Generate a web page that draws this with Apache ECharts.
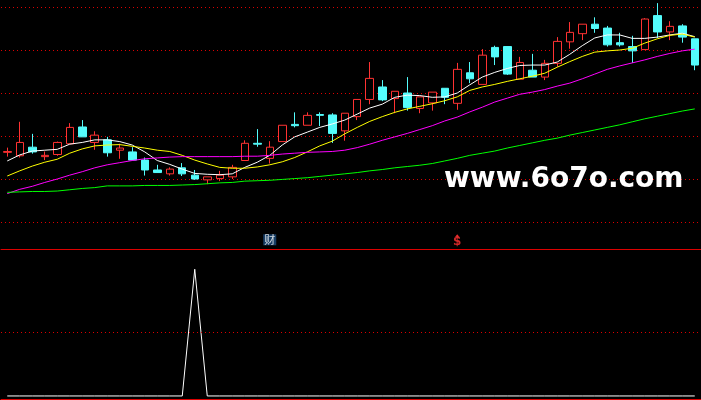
<!DOCTYPE html>
<html><head><meta charset="utf-8">
<style>html,body{margin:0;padding:0;background:#000;}#c{width:701px;height:400px;}</style>
<script src="https://cdn.jsdelivr.net/npm/echarts@6/dist/echarts.min.js"></script>
</head><body><div id="c"></div>
<script>
// ---- data ----
const categories = Array.from({length: 56}, (_, i) => String(i + 1));
// [open, close, low, high]
const candles = [
 [11.62,11.64,11.52,11.73],[11.54,11.85,11.50,12.33],[11.74,11.63,11.59,12.05],[11.52,11.55,11.44,11.64],
 [11.57,11.85,11.54,11.87],[11.82,12.20,11.81,12.30],[12.21,11.98,11.98,12.37],[11.85,12.02,11.68,12.11],
 [11.91,11.61,11.52,11.98],[11.67,11.72,11.47,11.82],[11.63,11.44,11.44,11.74],[11.44,11.21,11.08,11.50],
 [11.21,11.15,11.15,11.33],[11.12,11.23,11.08,11.27],[11.26,11.12,11.07,11.37],[11.09,11.00,10.98,11.21],
 [10.98,11.05,10.88,11.05],[11.01,11.09,10.95,11.19],[11.05,11.27,11.00,11.33],[11.43,11.83,11.43,11.90],
 [11.83,11.81,11.75,12.16],[11.48,11.74,11.36,11.88],[11.87,12.25,11.87,12.25],[12.27,12.24,12.20,12.55],
 [12.25,12.48,12.25,12.55],[12.50,12.48,12.23,12.55],[12.49,12.06,11.84,12.53],[12.12,12.53,11.89,12.53],
 [12.45,12.85,12.37,12.85],[12.85,13.34,12.74,13.72],[13.14,12.84,12.81,13.30],[12.87,13.04,12.53,13.04],
 [13.00,12.66,12.59,13.37],[12.64,12.91,12.53,12.91],[12.77,13.02,12.59,13.02],[13.11,12.90,12.74,13.11],
 [12.76,13.55,12.61,13.70],[13.47,13.33,13.23,13.72],[13.20,13.88,13.20,14.02],[14.06,13.84,13.65,14.10],
 [14.08,13.44,13.42,14.08],[13.32,13.71,13.32,13.84],[13.53,13.37,13.37,13.91],[13.37,13.69,13.30,13.77],
 [13.69,14.20,13.61,14.30],[14.19,14.41,14.03,14.65],[14.38,14.60,14.23,14.60],[14.60,14.50,14.40,14.76],
 [14.51,14.12,14.08,14.56],[14.17,14.12,14.08,14.40],[14.08,13.98,13.70,14.33],[14.01,14.72,14.01,14.74],
 [14.80,14.42,14.28,15.09],[14.42,14.55,14.23,14.67],[14.56,14.30,14.17,14.60],[14.26,13.65,13.53,14.26]
];
const maWhite = [11.42,11.56,11.65,11.67,11.69,11.81,11.85,11.91,11.91,11.87,11.79,11.63,11.43,11.34,11.23,11.13,
 11.11,11.10,11.12,11.27,11.39,11.55,11.79,11.98,12.09,12.20,12.28,12.37,12.51,12.65,12.74,12.90,12.95,12.94,12.90,12.91,
 13.00,13.19,13.37,13.48,13.57,13.64,13.65,13.65,13.72,13.90,14.10,14.28,14.35,14.35,14.27,14.27,14.30,14.35,14.39,14.31];
const maYellow = [11.07,11.19,11.30,11.39,11.46,11.60,11.70,11.77,11.79,11.80,11.76,11.72,11.67,11.64,11.55,11.44,
 11.35,11.27,11.25,11.25,11.28,11.33,11.40,11.50,11.63,11.77,11.88,12.05,12.20,12.34,12.45,12.55,12.63,12.69,12.75,12.82,
 12.91,13.06,13.14,13.20,13.27,13.33,13.39,13.46,13.60,13.73,13.85,13.95,13.98,14.00,14.04,14.16,14.26,14.34,14.37,14.30];
const maMagenta = [10.66,10.76,10.83,10.92,11.00,11.09,11.17,11.26,11.33,11.38,11.43,11.47,11.49,11.51,11.52,11.52,
 11.52,11.52,11.52,11.53,11.53,11.55,11.58,11.60,11.62,11.63,11.64,11.67,11.73,11.81,11.90,11.98,12.06,12.15,12.24,12.35,
 12.44,12.56,12.67,12.79,12.88,12.97,13.02,13.08,13.16,13.23,13.33,13.44,13.55,13.63,13.70,13.77,13.85,13.92,13.98,14.02];
const maGreen = [10.69,10.70,10.71,10.71,10.72,10.75,10.78,10.80,10.84,10.84,10.84,10.85,10.85,10.85,10.86,10.87,
 10.89,10.91,10.92,10.95,10.96,10.97,10.99,11.01,11.03,11.06,11.09,11.12,11.15,11.19,11.22,11.26,11.29,11.32,11.36,11.42,
 11.48,11.55,11.60,11.65,11.72,11.78,11.84,11.90,11.95,12.02,12.08,12.14,12.20,12.26,12.33,12.40,12.46,12.52,12.58,12.63];
const signal = [0,0,0,0,0,0,0,0,0,0,0,0,0,0,0,1,0,0,0,0,0,0,0,0,0,0,0,0,0,0,0,0,0,0,0,0,
 0,0,0,0,0,0,0,0,0,0,0,0,0,0,0,0,0,0,0,0];
const caiMarks = [21];
const dollarMarks = [36];
const watermark = 'www.6o7o.com';

// ---- chart ----
const RED = '#ff3232', CYAN = '#54fcfc', GRIDRED = '#dd0000';
const chart = echarts.init(document.getElementById('c'), null, {renderer: 'canvas'});
const hiddenX = (gi, showLine) => ({
  type: 'category', gridIndex: gi, data: categories, boundaryGap: true,
  axisTick: {show: false}, axisLabel: {show: false}, splitLine: {show: false},
  axisLine: {show: showLine, onZero: false, lineStyle: {color: GRIDRED, width: 1, opacity: 1}}
});
const maLine = (data, color) => ({
  type: 'line', xAxisIndex: 0, yAxisIndex: 0, data, showSymbol: false, symbol: 'none',
  lineStyle: {color, width: 1}, itemStyle: {color}, silent: true, clip: false, z: 3
});
chart.setOption({
  backgroundColor: '#000',
  animation: false,
  grid: [
    {left: 1, right: 0, top: 7, height: 215},
    {left: 1, right: 0, top: 226, height: 23},
    {left: 1, right: 0, top: 249, height: 150}
  ],
  xAxis: [hiddenX(0, false), hiddenX(1, true), hiddenX(2, true)],
  yAxis: [
    {type: 'value', gridIndex: 0, min: 10, max: 15, interval: 1,
     axisLine: {show: false}, axisTick: {show: false}, axisLabel: {show: false},
     splitLine: {show: true, lineStyle: {color: GRIDRED, type: [1, 3], width: 1, opacity: 1}}},
    {type: 'value', gridIndex: 1, min: 0, max: 1, show: false},
    {type: 'value', gridIndex: 2, min: -0.024, max: 1.16, show: false}
  ],
  graphic: [{
    type: 'text', x: 444, y: 180, silent: true, z: 100,
    style: {text: watermark, font: 'bold 28px "DejaVu Sans"', fill: '#ffffff',
            align: 'left', verticalAlign: 'middle'}
  }],
  series: [
    {type: 'candlestick', xAxisIndex: 0, yAxisIndex: 0, data: candles, barWidth: 8, clip: false,
     itemStyle: {color: '#000000', color0: CYAN, borderColor: RED, borderColor0: CYAN, borderWidth: 1}},
    maLine(maWhite, '#ffffff'),
    maLine(maYellow, '#ffff00'),
    maLine(maMagenta, '#ff00ff'),
    maLine(maGreen, '#00ff00'),
    {type: 'scatter', xAxisIndex: 1, yAxisIndex: 1, data: caiMarks.map(i => [i, 0.4]),
     symbolSize: 1, itemStyle: {color: 'rgba(0,0,0,0)'}, silent: true,
     label: {show: true, position: 'inside', formatter: '财', color: '#ffffff',
             backgroundColor: '#1d4c7d', fontSize: 11, lineHeight: 11,
             fontFamily: '"Noto Sans CJK SC"', padding: [0, 1]}},
    {type: 'scatter', xAxisIndex: 1, yAxisIndex: 1, data: dollarMarks.map(i => [i, 0.3]),
     symbolSize: 1, itemStyle: {color: 'rgba(0,0,0,0)'}, silent: true,
     label: {show: true, position: 'inside', formatter: '$', color: RED,
             fontSize: 12, fontWeight: 'bold', fontFamily: '"DejaVu Sans"'}},
    {type: 'scatter', xAxisIndex: 1, yAxisIndex: 1, data: dollarMarks.map(i => [i, 0.58]),
     symbol: 'triangle', symbolSize: [5, 3], itemStyle: {color: RED}, silent: true},
    {type: 'line', xAxisIndex: 2, yAxisIndex: 2, data: signal, showSymbol: false, symbol: 'none',
     lineStyle: {color: '#ffffff', width: 1}, silent: true, clip: false,
     markLine: {silent: true, symbol: ['none', 'none'], label: {show: false},
                lineStyle: {color: GRIDRED, type: [1, 3], width: 1, opacity: 1},
                data: [{yAxis: 0.5}]}}
  ]
});
</script></body></html>
